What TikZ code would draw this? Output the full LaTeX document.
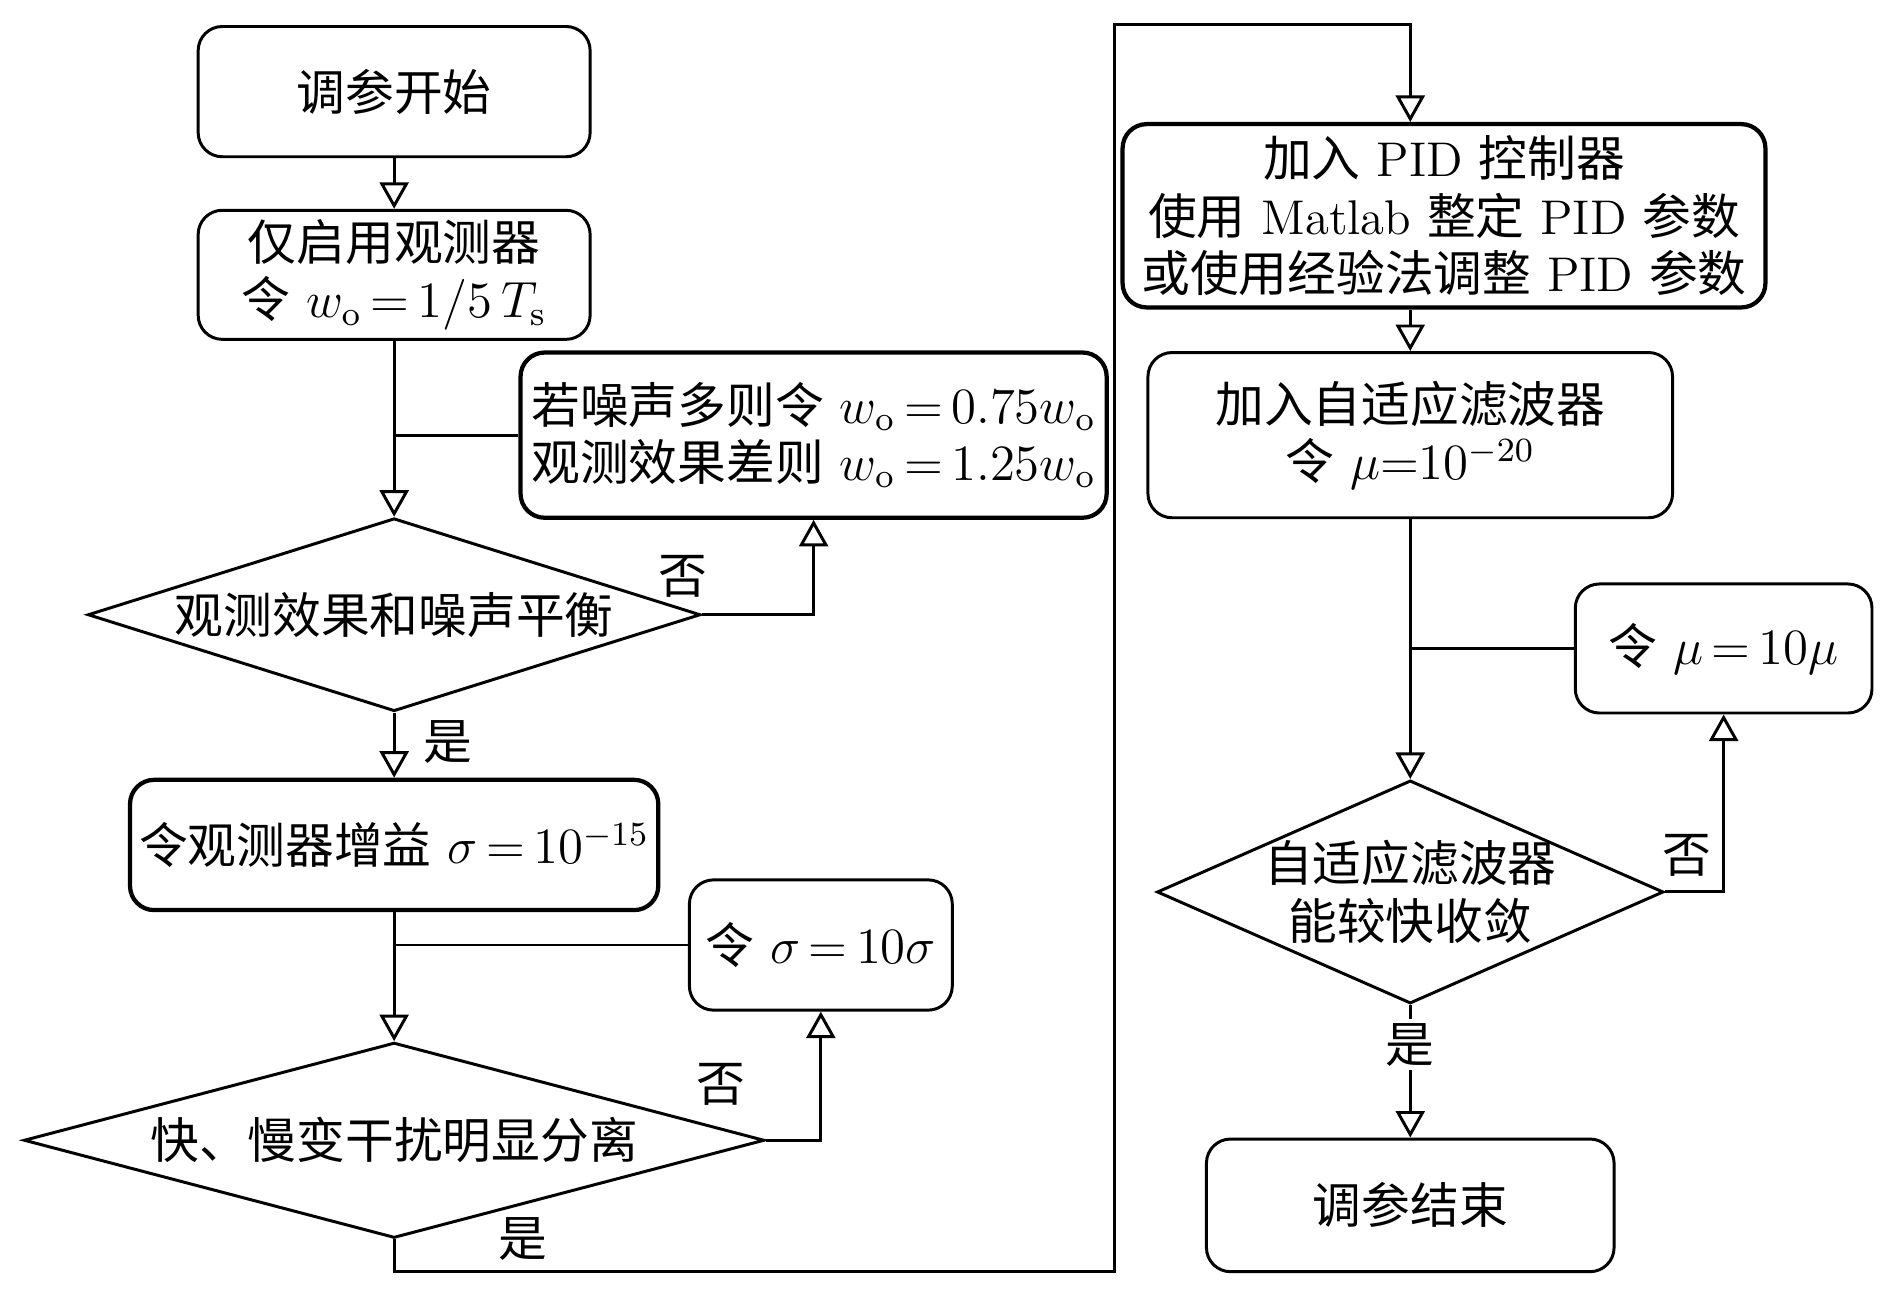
\documentclass[tikz,border=0pt]{standalone}
\usepackage{fontspec}
\newfontfamily\cjk{Noto Sans CJK SC}
\usetikzlibrary{shapes.geometric, arrows.meta, positioning}
\newcommand{\zh}[1]{{\cjk #1}}
\thickmuskip=3mu plus 2mu
\tikzset{
	>={Triangle[open, length=2.2mm, width=2.4mm]}, % punta abierta
	every node/.append style={font=\fontsize{11.5}{13.5}\selectfont}, % tamano del texto
	box/.style={draw, rounded corners=2mm, line width=0.7pt, align=center, inner sep=1pt}, % cajas
	thickbox/.style={box, line width=1pt}, % cajas de borde grueso
	test/.style={draw, diamond, line width=0.7pt, align=center, inner sep=-1pt}, % decisiones
	lbl/.style={inner sep=1pt} % textos de los arcos
}

\begin{document}
\begin{tikzpicture}[x=0.01cm, y=-0.01cm, line width=0.7pt]
	\useasboundingbox (0,0) rectangle (1568,1081);
	% columna izquierda
	\node[box, minimum width=3.25cm, minimum height=1.08cm] (start) at (327,76) {\zh{调参开始}};
	\node[box, minimum width=3.25cm, minimum height=1.07cm] (obs) at (327,228) {\zh{仅启用观测器}\\\zh{令} $w_{\mathrm{o}}=1/5\,T_{\mathrm{s}}$};
	\node[thickbox, minimum width=4.86cm, minimum height=1.37cm] (adj) at (675,361) {\zh{若噪声多则令} $w_{\mathrm{o}}=0.75w_{\mathrm{o}}$\\\zh{观测效果差则} $w_{\mathrm{o}}=1.25w_{\mathrm{o}}$};
	\node[test, aspect=3.175, minimum width=5.08cm, minimum height=1.6cm] (chk1) at (327,510) {\zh{观测效果和噪声平衡}};
	\node[thickbox, minimum width=4.38cm, minimum height=1.08cm] (gain) at (327,701) {\zh{令观测器增益} $\sigma=10^{-15}$};
	\node[box, minimum width=2.18cm, minimum height=1.08cm] (sig) at (681,784) {\zh{令} $\sigma=10\sigma$};
	\node[test, aspect=3.79, minimum width=6.14cm, minimum height=1.62cm] (chk2) at (327,946) {\zh{快、慢变干扰明显分离}};
	% columna derecha
	\node[thickbox, minimum width=5.33cm, minimum height=1.52cm] (pid) at (1198,179) {\zh{加入} PID \zh{控制器}\\\zh{使用} Matlab \zh{整定} PID \zh{参数}\\\zh{或使用经验法调整} PID \zh{参数}};
	\node[box, minimum width=4.35cm, minimum height=1.37cm] (filt) at (1170,361) {\zh{加入自适应滤波器}\\\zh{令} $\mu{=}10^{-20}$};
	\node[box, minimum width=2.46cm, minimum height=1.07cm] (mu) at (1430,538) {\zh{令} $\mu=10\mu$};
	\node[test, aspect=2.27, minimum width=4.2cm, minimum height=1.85cm] (chk3) at (1170,740) {\zh{自适应滤波器}\\\zh{能较快收敛}};
	\node[box, minimum width=3.38cm, minimum height=1.1cm] (stop) at (1170,1000) {\zh{调参结束}};
	\coordinate (c1) at (925,1055);
	\coordinate (c2) at (925,20);
	% arcos
	\draw[->] (start) -- (obs);
	\draw[->] (obs) -- (chk1);
	\draw (adj.west) -- (adj.west -| obs.south);
	\draw[->] (chk1.east) -| (adj.south);
	\draw[->] (chk1) -- node[lbl, right=2mm, pos=0.45] {\zh{是}} (gain);
	\draw[->] (gain) -- (chk2);
	\draw (sig.west) -- (sig.west -| gain.south);
	\draw[->] (chk2.east) -| (sig.south);
	\draw[->] (chk2.south) |- (c1) -- (c2) -| (pid.north -| filt.north);
	\draw[->] (pid.south -| filt.north) -- (filt.north);
	\draw[->] (filt) -- (chk3);
	\draw (mu.west) -- (mu.west -| filt.south);
	\draw[->] (chk3.east) -| (mu.south);
	\draw[->] (chk3) -- node[lbl, fill=white, pos=0.3] {\zh{是}} (stop);
	\node[lbl] (no1) at ([shift={(-16,-32)}]chk1.east) {\zh{否}};
	\node[lbl] (no2) at ([shift={(-37,-46)}]chk2.east) {\zh{否}};
	\node[lbl] (no3) at ([shift={(18,-30)}]chk3.east) {\zh{否}};
	\node[lbl] (yes2) at ([shift={(107,0)}]chk2.south) {\zh{是}};
\end{tikzpicture}
\end{document}
